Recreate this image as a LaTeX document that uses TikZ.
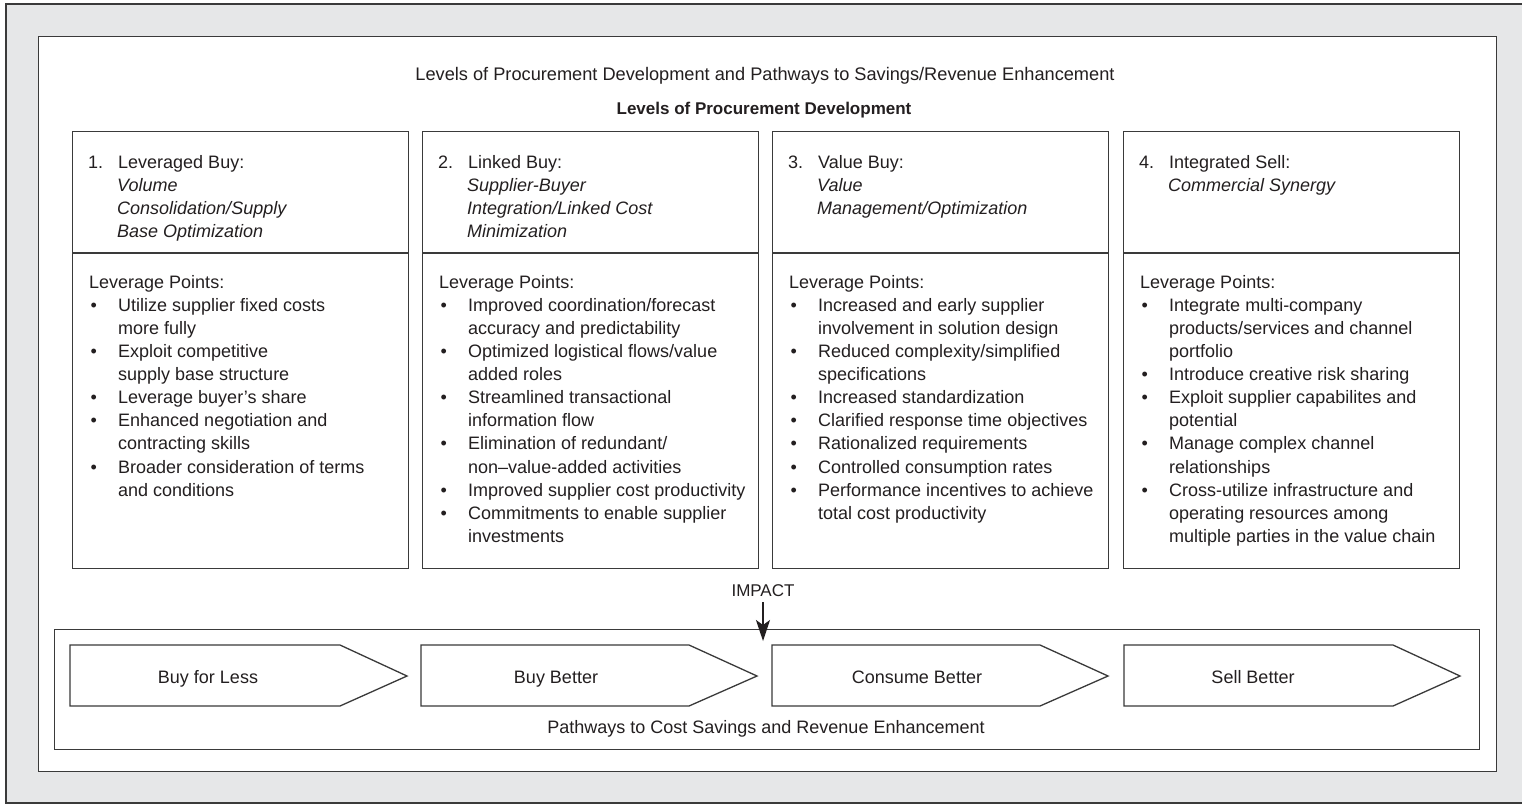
\documentclass[tikz,border=0pt]{standalone}
\usepackage{fontspec}
\setmainfont{Liberation Sans}
\usetikzlibrary{arrows.meta}
\definecolor{bg}{HTML}{E6E7E8}
\definecolor{ln}{HTML}{3A3A3A}
\definecolor{tx}{HTML}{231F20}
\newcommand{\pbul}{\makebox[29pt][l]{\hspace{1.5pt}\textbullet}}
\newcommand{\pind}{\makebox[29pt][l]{}}
\newcommand{\pnum}[1]{\makebox[30pt][l]{#1}}
\tikzset{
  boxline/.style={draw=ln, line width=1.3pt},
  colbox/.style={boxline, fill=white, anchor=north west, minimum width=336pt, minimum height=437pt, inner sep=0pt},
  coltext/.style={anchor=north west, align=left, inner sep=0pt, text=tx, font=\fontsize{18}{23.1}\selectfont},
  chev/.style={boxline, fill=white},
  chevlabel/.style={text=tx, font=\fontsize{18}{22}\selectfont, inner sep=0pt, anchor=base},
}
\begin{document}
\begin{tikzpicture}[x=1pt,y=-1pt]
\useasboundingbox (0,0) rectangle (1522,804);
% outer grey panel
\path[fill=bg, draw=ln, line width=1.3pt] (6,4) rectangle (1545,803);
\node[boxline, fill=white, anchor=north west, minimum width=1458pt, minimum height=735pt, inner sep=0pt] (frame) at (38,36) {};
% titles
\node[text=tx, font=\fontsize{18.2}{22}\selectfont, inner sep=0pt] (title) at (765,76) {Levels of Procurement Development and Pathways to Savings/Revenue Enhancement};
\node[text=tx, font=\fontsize{17}{20}\selectfont\bfseries, inner sep=0pt] (subtitle) at (764,110) {Levels of Procurement Development};
% column boxes
\node[colbox] (c1) at (72,131) {};
\node[colbox] (c2) at (422,131) {};
\node[colbox] (c3) at (772,131) {};
\node[colbox] (c4) at (1123,131) {};
\draw[boxline] (72,253) -- (408,253);
\draw[boxline] (422,253) -- (758,253);
\draw[boxline] (772,253) -- (1108,253);
\draw[boxline] (1123,253) -- (1459,253);
% headers
\node[coltext] (h1) at (88,155) {\pnum{1.}Leveraged Buy:\\ \pind\textit{Volume}\\ \pind\textit{Consolidation/Supply}\\ \pind\textit{Base Optimization}};
\node[coltext] (h2) at (438,155) {\pnum{2.}Linked Buy:\\ \pind\textit{Supplier-Buyer}\\ \pind\textit{Integration/Linked Cost}\\ \pind\textit{Minimization}};
\node[coltext] (h3) at (788,155) {\pnum{3.}Value Buy:\\ \pind\textit{Value}\\ \pind\textit{Management/Optimization}};
\node[coltext] (h4) at (1139,155) {\pnum{4.}Integrated Sell:\\ \pind\textit{Commercial Synergy}};
% bodies
\node[coltext] (b1) at (89,275) {Leverage Points:\\
\pbul Utilize supplier fixed costs\\ \pind more fully\\
\pbul Exploit competitive\\ \pind supply base structure\\
\pbul Leverage buyer’s share\\
\pbul Enhanced negotiation and\\ \pind contracting skills\\
\pbul Broader consideration of terms\\ \pind and conditions};
\node[coltext] (b2) at (439,275) {Leverage Points:\\
\pbul Improved coordination/forecast\\ \pind accuracy and predictability\\
\pbul Optimized logistical flows/value\\ \pind added roles\\
\pbul Streamlined transactional\\ \pind information flow\\
\pbul Elimination of redundant/\\ \pind non–value-added activities\\
\pbul Improved supplier cost productivity\\
\pbul Commitments to enable supplier\\ \pind investments};
\node[coltext] (b3) at (789,275) {Leverage Points:\\
\pbul Increased and early supplier\\ \pind involvement in solution design\\
\pbul Reduced complexity/simplified\\ \pind specifications\\
\pbul Increased standardization\\
\pbul Clarified response time objectives\\
\pbul Rationalized requirements\\
\pbul Controlled consumption rates\\
\pbul Performance incentives to achieve\\ \pind total cost productivity};
\node[coltext] (b4) at (1140,275) {Leverage Points:\\
\pbul Integrate multi-company\\ \pind products/services and channel\\ \pind portfolio\\
\pbul Introduce creative risk sharing\\
\pbul Exploit supplier capabilites and\\ \pind potential\\
\pbul Manage complex channel\\ \pind relationships\\
\pbul Cross-utilize infrastructure and\\ \pind operating resources among\\ \pind multiple parties in the value chain};
% pathways box
\node[boxline, fill=white, anchor=north west, minimum width=1425pt, minimum height=120pt, inner sep=0pt] (pathbox) at (54,629) {};
\draw[chev] (70,645) -- (340,645) -- (407,676) -- (340,706) -- (70,706) -- cycle;
\draw[chev] (421,645) -- (689,645) -- (757,676) -- (689,706) -- (421,706) -- cycle;
\draw[chev] (772,645) -- (1040,645) -- (1108,676) -- (1040,706) -- (772,706) -- cycle;
\draw[chev] (1124,645) -- (1393,645) -- (1460,676) -- (1393,706) -- (1124,706) -- cycle;
\node[chevlabel] (p1) at (208,683) {Buy for Less};
\node[chevlabel] (p2) at (556,683) {Buy Better};
\node[chevlabel] (p3) at (917,683) {Consume Better};
\node[chevlabel] (p4) at (1253,683) {Sell Better};
\node[text=tx, font=\fontsize{18}{22}\selectfont, inner sep=0pt, anchor=base] (pathlabel) at (766,733) {Pathways to Cost Savings and Revenue Enhancement};
% impact
\node[text=tx, font=\fontsize{17}{20}\selectfont, inner sep=0pt] (impact) at (763,591) {IMPACT};
\coordinate (impend) at (763,641);
\draw[draw=tx, line width=1.3pt, -{Stealth[length=21pt,width=14pt,inset=5pt]}] ([yshift=-5pt]impact.south) -- (impend);
\end{tikzpicture}
\end{document}
